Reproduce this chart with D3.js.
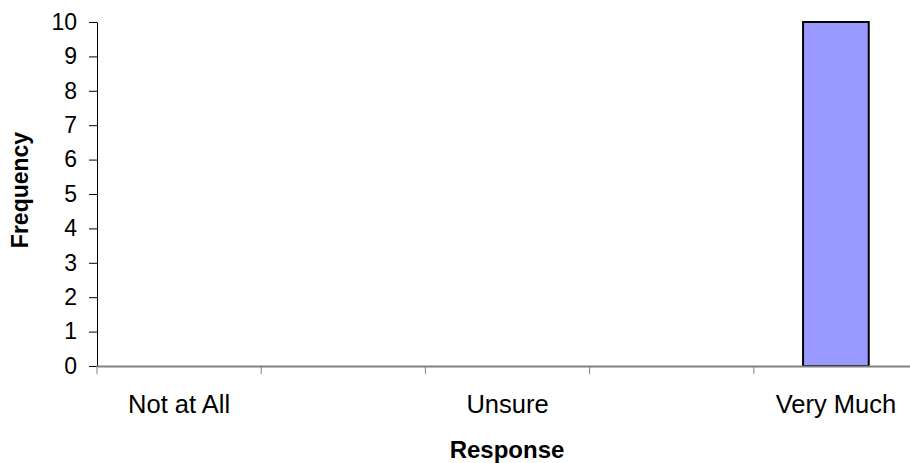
<!DOCTYPE html>
<html>
<head>
<meta charset="utf-8">
<script src="https://cdn.jsdelivr.net/npm/d3@7"></script>
<style>
  body { margin: 0; background: #fff; }
  text { font-family: "Liberation Sans", Arial, sans-serif; fill: #000; }
</style>
</head>
<body>
<div id="chart"></div>
<script>
// responses on a 5 point scale, only three are labelled
let categories = ["Not at All", "Somewhat Not", "Unsure", "Somewhat", "Very Much"];
let tickLabels = ["Not at All", "", "Unsure", "", "Very Much"];
let frequency = [0, 0, 0, 0, 10];
let yTicks = [0, 1, 2, 3, 4, 5, 6, 7, 8, 9, 10];

let svgWidth = 910;
let svgHeight = 463;

let margin = { top: 22, right: -8, bottom: 97, left: 97 };
let chartWidth = svgWidth - margin.left - margin.right;
let chartHeight = svgHeight - margin.top - margin.bottom;

let svg = d3.select("#chart")
  .append("svg")
  .attr("width", svgWidth)
  .attr("height", svgHeight);

let chartGroup = svg.append("g")
  .attr("transform", `translate(${margin.left}, ${margin.top})`);

let xScale = d3.scaleBand()
  .domain(categories)
  .range([0, chartWidth])
  .padding(0);

let yScale = d3.scaleLinear()
  .domain([0, 10])
  .range([chartHeight, 0]);

// bars
let barW = xScale.bandwidth() * 0.4;
chartGroup.selectAll("rect.bar")
  .data(categories.map((c, i) => ({ cat: c, value: frequency[i] })).filter(d => d.value > 0))
  .enter()
  .append("rect")
  .attr("class", "bar")
  .attr("x", d => xScale(d.cat) + (xScale.bandwidth() - barW) / 2)
  .attr("y", d => yScale(d.value))
  .attr("width", barW)
  .attr("height", d => yScale(0) - yScale(d.value))
  .attr("fill", "#9999ff")
  .attr("stroke", "#000")
  .attr("stroke-width", 2);

// y axis
let leftAxis = d3.axisLeft(yScale)
  .tickValues(yTicks)
  .tickSize(8)
  .tickPadding(12)
  .tickSizeOuter(0);

let yAxisG = chartGroup.append("g").call(leftAxis);
yAxisG.select(".domain").attr("stroke", "#000").attr("stroke-width", 1);
yAxisG.selectAll(".tick line").attr("stroke", "#000");
yAxisG.selectAll(".tick text")
  .style("font-size", "23px")
  .style("font-family", "Liberation Sans, Arial, sans-serif");

// x axis: ticks sit on band boundaries
let bottomAxis = d3.axisBottom(xScale)
  .tickSize(0)
  .tickPadding(29)
  .tickFormat((d, i) => tickLabels[i]);

let xAxisG = chartGroup.append("g")
  .attr("transform", `translate(0, ${chartHeight})`)
  .call(bottomAxis);
xAxisG.select(".domain").attr("stroke", "#808080").attr("stroke-width", 2);
xAxisG.selectAll(".tick text")
  .style("font-size", "25.5px")
  .style("font-family", "Liberation Sans, Arial, sans-serif");

chartGroup.append("g")
  .selectAll("line")
  .data(categories)
  .enter()
  .append("line")
  .attr("x1", d => xScale(d))
  .attr("x2", d => xScale(d))
  .attr("y1", chartHeight)
  .attr("y2", chartHeight + 8)
  .attr("stroke", "#808080")
  .attr("stroke-width", 1);

// axis titles
chartGroup.append("text")
  .attr("transform", "rotate(-90)")
  .attr("x", -(190 - margin.top))
  .attr("y", 28 - margin.left)
  .attr("text-anchor", "middle")
  .attr("font-weight", "bold")
  .attr("font-size", "23px")
  .text("Frequency");

chartGroup.append("text")
  .attr("x", 507 - margin.left)
  .attr("y", 458 - margin.top)
  .attr("text-anchor", "middle")
  .attr("font-weight", "bold")
  .attr("font-size", "24px")
  .text("Response");
</script>
</body>
</html>
